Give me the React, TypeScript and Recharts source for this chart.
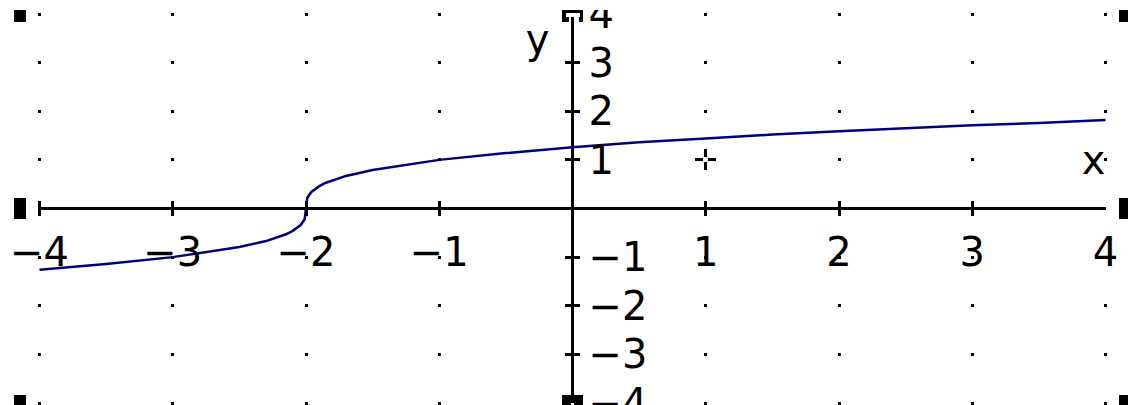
import {
  ComposedChart,
  Line,
  Scatter,
  XAxis,
  YAxis,
  ReferenceLine,
} from "recharts";

// sampled curve, denser around the vertical tangent at x = -2
const curveX = [
  -4, -3.5, -3, -2.5, -2.3, -2.15, -2.1, -2.04, -2.01, -2, -1.99, -1.96, -1.9,
  -1.85, -1.7, -1.5, -1, -0.5, 0, 0.5, 1, 1.5, 2, 2.5, 3, 3.5, 4,
];
const curveY = [
  -1.26, -1.14, -1.0, -0.79, -0.67, -0.53, -0.46, -0.34, -0.22, 0, 0.22, 0.34,
  0.46, 0.53, 0.67, 0.79, 1.0, 1.14, 1.26, 1.36, 1.44, 1.52, 1.59, 1.65, 1.71,
  1.76, 1.82,
];

const gridSteps = [-4, -3, -2, -1, 1, 2, 3, 4];
const xTickMarks = [-4, -3, -2, -1, 1, 2, 3];
const xTickValues = [-4, -3, -2, -1, 1, 2, 3, 4];
const xTickLabels = ["−4", "−3", "−2", "−1", "1", "2", "3", "4"];
const yTickMarks = [3, 2, 1, -1, -2, -3];
const yTickValues = [4, 3, 2, 1, -1, -2, -3, -4];
const yTickLabels = ["4", "3", "2", "1", "−1", "−2", "−3", "−4"];
const framePoints = [
  { x: -4, y: 4 },
  { x: 4, y: 4 },
  { x: -4, y: 0 },
  { x: 4, y: 0 },
  { x: -4, y: -4 },
  { x: 4, y: -4 },
];
const cursorPoint = [{ x: 1, y: 1 }];

const curveData = curveX.map((x, i) => ({ x, y: curveY[i] }));
const gridData = gridSteps.flatMap((x) =>
  gridSteps
    .filter((y) => !(x === cursorPoint[0].x && y === cursorPoint[0].y))
    .map((y) => ({ x, y }))
);
const xTickData = xTickValues.map((x, i) => ({
  x,
  y: 0,
  label: xTickLabels[i],
  mark: xTickMarks.includes(x),
}));
const yTickData = yTickValues.map((y, i) => ({
  x: 0,
  y,
  label: yTickLabels[i],
  mark: yTickMarks.includes(y),
}));
const axisEnds = [
  { x: 0, y: 4 },
  { x: 0, y: -4 },
];

const FONT = "DejaVu Sans";

const GridDot = ({ cx, cy }: any) => (
  <rect x={cx - 1.5} y={cy - 1.5} width={3} height={3} fill="#000" shapeRendering="crispEdges" />
);

const XTick = ({ cx, cy, payload }: any) => (
  <g>
    {payload.mark && (
      <rect x={cx - 1.5} y={cy - 7.5} width={3} height={15} fill="#000" shapeRendering="crispEdges" />
    )}
    <text x={cx} y={cy + 57} textAnchor="middle" fontFamily={FONT} fontSize={40} fill="#000">
      {payload.label}
    </text>
  </g>
);

const YTick = ({ cx, cy, payload }: any) => (
  <g>
    {payload.mark && (
      <rect x={cx - 7.5} y={cy - 1.5} width={15} height={3} fill="#000" shapeRendering="crispEdges" />
    )}
    <text x={cx + 16} y={cy + 14} textAnchor="start" fontFamily={FONT} fontSize={40} fill="#000">
      {payload.label}
    </text>
  </g>
);

// square handles on the corners and on the ends of the x axis
const FrameHandle = ({ cx, cy, payload }: any) => {
  const left = payload.x < 0;
  const x = left ? cx - 26 : cx + 13.5;
  const w = left ? 12 : 9;
  let y = cy - 10.5;
  let h = 21;
  if (payload.y > 0) {
    y = cy - 4;
    h = 12;
  } else if (payload.y < 0) {
    y = cy - 8;
    h = 12;
  }
  return <rect x={x} y={y} width={w} height={h} fill="#000" shapeRendering="crispEdges" />;
};

// end caps of the y axis
const AxisCap = ({ cx, cy, payload }: any) =>
  payload.y > 0 ? (
    <g shapeRendering="crispEdges">
      <rect x={cx - 10.5} y={cy - 4} width={21} height={12} fill="#000" />
      <rect x={cx - 6.5} y={cy - 1} width={14} height={4} fill="#fff" />
      <rect x={cx - 3.5} y={cy + 3} width={2} height={5} fill="#fff" />
      <rect x={cx + 1.5} y={cy + 3} width={5} height={5} fill="#fff" />
      <text x={cx - 35} y={cy + 39} textAnchor="middle" fontFamily={FONT} fontSize={40} fill="#000">
        y
      </text>
    </g>
  ) : (
    <g shapeRendering="crispEdges">
      <rect x={cx - 10.5} y={cy - 8} width={9} height={12} fill="#000" />
      <rect x={cx + 1.5} y={cy - 8} width={9} height={12} fill="#000" />
    </g>
  );

const Cursor = ({ cx, cy }: any) => (
  <g fill="#000" shapeRendering="crispEdges">
    <rect x={cx - 10.5} y={cy - 1.5} width={8} height={3} />
    <rect x={cx + 2.5} y={cy - 1.5} width={8} height={3} />
    <rect x={cx - 1.5} y={cy - 10.5} width={3} height={8} />
    <rect x={cx - 1.5} y={cy + 2.5} width={3} height={8} />
  </g>
);

const XName = ({ cx, cy }: any) => (
  <text x={cx - 12} y={cy + 14.5} textAnchor="middle" fontFamily={FONT} fontSize={40} fill="#000">
    x
  </text>
);

export default function App() {
  return (
    <div
      style={{
        position: "absolute",
        left: 0,
        top: 0,
        width: 1138,
        height: 405,
        background: "#fff",
        overflow: "hidden",
      }}
    >
      <ComposedChart
        width={1138}
        height={405}
        margin={{ top: 14, right: 32.5, bottom: 2, left: 39.5 }}
      >
        <XAxis type="number" dataKey="x" domain={[-4, 4]} hide />
        <YAxis type="number" dataKey="y" domain={[-4, 4]} hide />
        <ReferenceLine y={0} stroke="#000" strokeWidth={3} shapeRendering="crispEdges" />
        <ReferenceLine x={0} stroke="#000" strokeWidth={3} shapeRendering="crispEdges" />
        <Scatter data={gridData} dataKey="y" shape={GridDot} isAnimationActive={false} />
        <Scatter data={xTickData} dataKey="y" shape={XTick} isAnimationActive={false} />
        <Scatter data={yTickData} dataKey="y" shape={YTick} isAnimationActive={false} />
        <Scatter data={framePoints} dataKey="y" shape={FrameHandle} isAnimationActive={false} />
        <Scatter data={axisEnds} dataKey="y" shape={AxisCap} isAnimationActive={false} />
        <Scatter data={cursorPoint} dataKey="y" shape={Cursor} isAnimationActive={false} />
        <Scatter data={[{ x: 4, y: 1 }]} dataKey="y" shape={XName} isAnimationActive={false} />
        <Line
          data={curveData}
          dataKey="y"
          type="linear"
          stroke="#000080"
          strokeWidth={2.5}
          dot={false}
          activeDot={false}
          isAnimationActive={false}
        />
      </ComposedChart>
      <div
        style={{
          position: "absolute",
          left: 0,
          top: 0,
          width: 1138,
          height: 10,
          background: "#fff",
        }}
      />
    </div>
  );
}
